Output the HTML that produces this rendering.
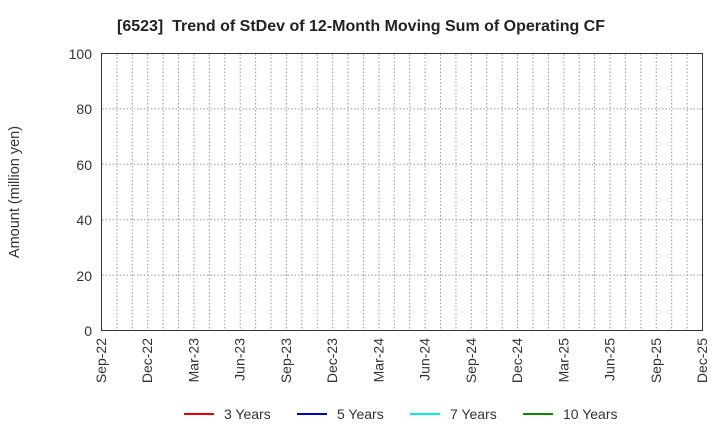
<!DOCTYPE html>
<html><head><meta charset="utf-8"><style>body{margin:0;background:#fff}svg{display:block}text{font-family:"Liberation Sans",sans-serif;fill:#333}</style></head>
<body>
<svg width="720" height="440" xmlns="http://www.w3.org/2000/svg">
<text x="361" y="31" text-anchor="middle" font-size="16" font-weight="bold" style="fill:#222">[6523]&#160; Trend of StDev of 12-Month Moving Sum of Operating CF</text>
<g id="grid" stroke="#999" stroke-width="1" stroke-dasharray="1.5,2"></g>
<rect x="101.5" y="53.5" width="601" height="277" fill="none" stroke="#333" stroke-width="1"/>
<g font-size="14" text-anchor="end">
<text x="92" y="59">100</text><text x="92" y="114">80</text><text x="92" y="170">60</text><text x="92" y="225">40</text><text x="92" y="281">20</text><text x="92" y="336">0</text>
</g>
<text transform="translate(19,192) rotate(-90)" font-size="14.5" text-anchor="middle">Amount (million yen)</text>
<g font-size="14" text-anchor="end" id="xl">
<text transform="translate(106,338) rotate(-90)">Sep-22</text>
<text transform="translate(152.2,338) rotate(-90)">Dec-22</text>
<text transform="translate(198.5,338) rotate(-90)">Mar-23</text>
<text transform="translate(244.7,338) rotate(-90)">Jun-23</text>
<text transform="translate(291,338) rotate(-90)">Sep-23</text>
<text transform="translate(337.2,338) rotate(-90)">Dec-23</text>
<text transform="translate(383.5,338) rotate(-90)">Mar-24</text>
<text transform="translate(429.7,338) rotate(-90)">Jun-24</text>
<text transform="translate(476,338) rotate(-90)">Sep-24</text>
<text transform="translate(522.2,338) rotate(-90)">Dec-24</text>
<text transform="translate(568.5,338) rotate(-90)">Mar-25</text>
<text transform="translate(614.7,338) rotate(-90)">Jun-25</text>
<text transform="translate(661,338) rotate(-90)">Sep-25</text>
<text transform="translate(707.2,338) rotate(-90)">Dec-25</text>
</g>
<g font-size="14">
<line x1="184" y1="414" x2="214" y2="414" stroke="#e00" stroke-width="2"/><text x="224" y="419">3 Years</text>
<line x1="297" y1="414" x2="327" y2="414" stroke="#00c" stroke-width="2"/><text x="337" y="419">5 Years</text>
<line x1="410" y1="414" x2="440" y2="414" stroke="#0ee" stroke-width="2"/><text x="450" y="419">7 Years</text>
<line x1="523" y1="414" x2="553" y2="414" stroke="#180" stroke-width="2"/><text x="563" y="419">10 Years</text>
</g>
</svg>
<script>
var g=document.getElementById('grid'),s='';
for(var i=1;i<39;i++){var x=101.5+i*601/39;s+='<line x1="'+x+'" y1="54" x2="'+x+'" y2="330"/>';}
for(var j=1;j<5;j++){var y=53.5+j*277/5;s+='<line x1="102" y1="'+y+'" x2="702" y2="'+y+'"/>';}
g.innerHTML=s;
</script>
</body></html>
